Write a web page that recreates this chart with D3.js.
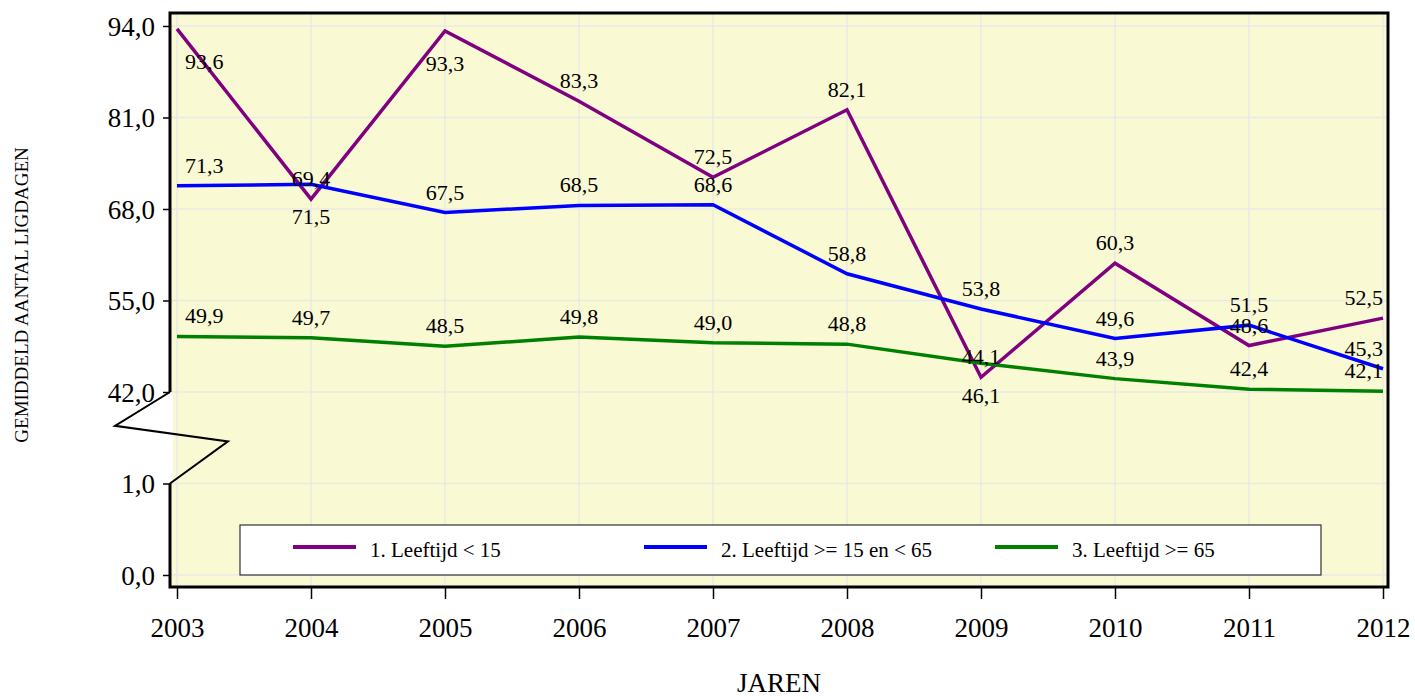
<!DOCTYPE html>
<html>
<head>
<meta charset="utf-8">
<script src="https://cdn.jsdelivr.net/npm/d3@7"></script>
<style>
  body { margin: 0; background: #fff; }
  svg { display: block; font-family: "Liberation Serif", "Times New Roman", serif; }
</style>
</head>
<body>
<svg id="chart" width="1415" height="699"></svg>
<script>
// data
const years = [2003, 2004, 2005, 2006, 2007, 2008, 2009, 2010, 2011, 2012];
const youngDays = [93.6, 69.4, 93.3, 83.3, 72.5, 82.1, 44.1, 60.3, 48.6, 52.5];
const middleDays = [71.3, 71.5, 67.5, 68.5, 68.6, 58.8, 53.8, 49.6, 51.5, 45.3];
const oldDays = [49.9, 49.7, 48.5, 49.8, 49.0, 48.8, 46.1, 43.9, 42.4, 42.1];
const seriesNames = ["1. Leeftijd < 15", "2. Leeftijd >= 15 en < 65", "3. Leeftijd >= 65"];
const yTicks = [0, 1, 42, 55, 68, 81, 94];

// labels that sit under their point instead of above
const labelsBelow = [[0, 2003], [0, 2005], [1, 2004], [2, 2009]];

const colors = ["#800080", "#0000ff", "#008000"];
const series = [youngDays, middleDays, oldDays].map((vals, i) => ({
  name: seriesNames[i],
  color: colors[i],
  points: years.map((yr, j) => ({ year: yr, value: vals[j] }))
}));

const svg = d3.select("#chart");

const plotLeft = 170, plotRight = 1388, plotTop = 13, plotBottom = 587;

const x = d3.scaleLinear().domain([2003, 2012]).range([177, 1383]);
// broken axis: 0..1 and 1..42 get one tick gap each
const y = d3.scaleLinear().domain([0, 1, 42, 94]).range([575, 483.5, 392, 26]);

const fmt = d => d.toFixed(1).replace(".", ",");

// plot background
svg.append("rect")
  .attr("x", plotLeft).attr("y", plotTop)
  .attr("width", plotRight - plotLeft).attr("height", plotBottom - plotTop)
  .attr("fill", "#f9f9d4");

svg.append("rect")
  .attr("x", plotLeft - 2).attr("y", y(42))
  .attr("width", 5).attr("height", y(1) - y(42))
  .attr("fill", "#fff");

// grid
svg.append("g").selectAll("line")
  .data(years)
  .join("line")
  .attr("x1", d => x(d)).attr("x2", d => x(d))
  .attr("y1", plotTop).attr("y2", plotBottom)
  .attr("stroke", "#e9e9e4").attr("stroke-width", 1.5);

svg.append("g").selectAll("line")
  .data(yTicks)
  .join("line")
  .attr("x1", plotLeft).attr("x2", plotRight)
  .attr("y1", d => y(d)).attr("y2", d => y(d))
  .attr("stroke", "#e9e9e4").attr("stroke-width", 1.5);

// axes
const xAxis = svg.append("g")
  .attr("transform", `translate(0,${plotBottom})`)
  .call(d3.axisBottom(x).tickValues(years).tickFormat(d3.format("d")).tickSize(12));
xAxis.select(".domain").remove();
xAxis.selectAll(".tick line").attr("stroke", "#000").attr("stroke-width", 1.5);
xAxis.selectAll(".tick text")
  .attr("y", 50).attr("dy", null)
  .attr("fill", "#000")
  .style("font-family", "Liberation Serif, serif")
  .style("font-size", "27px");

const yAxis = svg.append("g")
  .attr("transform", `translate(${plotLeft},0)`)
  .call(d3.axisLeft(y).tickValues(yTicks).tickFormat(fmt).tickSize(7).tickPadding(8));
yAxis.select(".domain").remove();
yAxis.selectAll(".tick line").attr("stroke", "#000").attr("stroke-width", 1.5);
yAxis.selectAll(".tick text")
  .attr("dy", "0.35em")
  .attr("fill", "#000")
  .style("font-family", "Liberation Serif, serif")
  .style("font-size", "27px");

// frame, left side open at the break
const frame = svg.append("g").attr("stroke", "#000").attr("stroke-width", 3).attr("fill", "none");
frame.append("path")
  .attr("d", `M${plotLeft},${y(42)}V${plotTop}H${plotRight}V${plotBottom}H${plotLeft}V${y(1)}`);

// break symbol
const gap = y(1) - y(42);
frame.append("polyline")
  .attr("stroke-width", 2)
  .attr("points", [
    [plotLeft, y(42)],
    [115, y(42) + gap * 0.37],
    [228, y(42) + gap * 0.54],
    [plotLeft, y(1)]
  ].map(p => p.join(",")).join(" "));

// series lines
const line = d3.line()
  .x(d => x(d.year))
  .y(d => y(d.value));

svg.append("g").selectAll("path")
  .data(series)
  .join("path")
  .attr("d", d => line(d.points))
  .attr("fill", "none")
  .attr("stroke", d => d.color)
  .attr("stroke-width", 3.5)
  .attr("stroke-linejoin", "miter");

// value labels
const isBelow = (si, yr) => labelsBelow.some(b => b[0] === si && b[1] === yr);
series.forEach((s, si) => {
  svg.append("g").selectAll("text")
    .data(s.points)
    .join("text")
    .attr("x", d => d.year === 2003 ? x(d.year) + 8 : x(d.year))
    .attr("y", d => isBelow(si, d.year) ? y(d.value) + 40 : y(d.value) - 13)
    .attr("text-anchor", d => d.year === 2003 ? "start" : d.year === 2012 ? "end" : "middle")
    .style("font-size", "22px")
    .attr("fill", "#000")
    .text(d => fmt(d.value));
});

// legend
const legend = svg.append("g").attr("transform", "translate(240,525)");
legend.append("rect")
  .attr("width", 1081).attr("height", 50)
  .attr("fill", "#fff").attr("stroke", "#333").attr("stroke-width", 1.2);

const legendItems = legend.selectAll(".legend-item")
  .data(series)
  .join("g")
  .attr("class", "legend-item")
  .attr("transform", (d, i) => `translate(${53 + i * 351},22)`);

legendItems.append("line")
  .attr("x1", 0).attr("x2", 63)
  .attr("stroke", d => d.color)
  .attr("stroke-width", 4);

legendItems.append("text")
  .attr("x", 77).attr("y", 9.5)
  .style("font-size", "21px")
  .attr("fill", "#000")
  .text(d => d.name);

// axis titles
svg.append("text")
  .attr("x", (plotLeft + plotRight) / 2).attr("y", 692)
  .attr("text-anchor", "middle")
  .style("font-size", "27px")
  .text("JAREN");

svg.append("text")
  .attr("transform", "translate(28,295) rotate(-90)")
  .attr("text-anchor", "middle")
  .style("font-size", "19px")
  .text("GEMIDDELD AANTAL LIGDAGEN");
</script>
</body>
</html>
